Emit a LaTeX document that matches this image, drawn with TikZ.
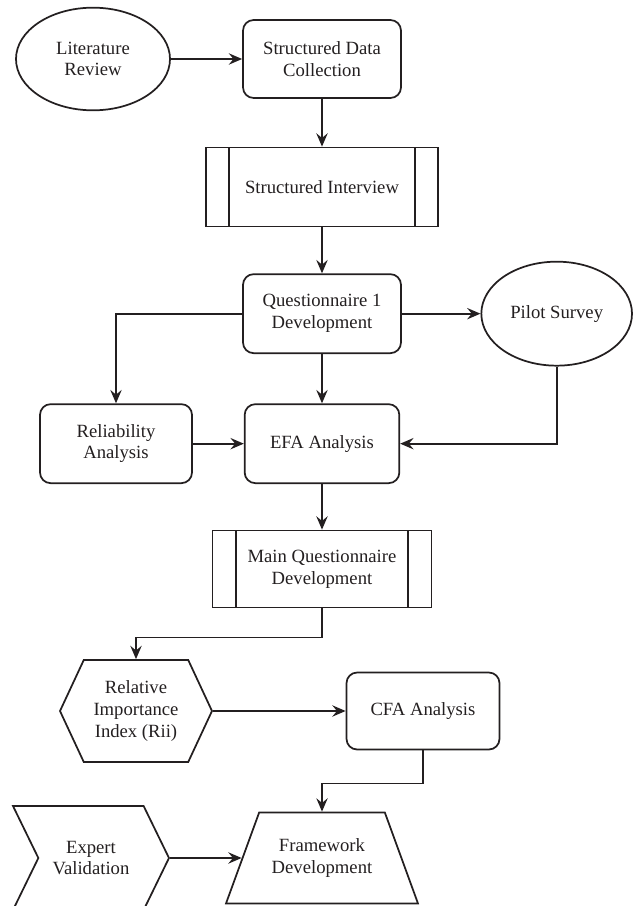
\documentclass[tikz,border=0pt]{standalone}
\usepackage{fontspec}
\setmainfont{Liberation Serif}
\usetikzlibrary{positioning,shapes.geometric,shapes.symbols,arrows.meta}
\definecolor{ink}{HTML}{231F20}

\begin{document}
\begin{tikzpicture}[->,>={Stealth[length=10pt,width=8.5pt,inset=3.5pt]},color=ink,line width=1.3pt,node distance=3cm,
    base node/.style={draw,align=center,inner sep=2pt,font=\fontsize{14}{16.3}\selectfont},
    round node/.style={base node,rectangle,rounded corners=8pt,minimum width=118.5pt,minimum height=58.5pt},
    oval node/.style={base node,ellipse,minimum width=115.5pt,minimum height=77pt},
    sub node/.style={base node,rectangle,path picture={
        \draw[-] ([xshift=17.5pt]path picture bounding box.north west) -- ([xshift=17.5pt]path picture bounding box.south west)
                 ([xshift=-17.5pt]path picture bounding box.north east) -- ([xshift=-17.5pt]path picture bounding box.south east);}},
    hex node/.style={base node,signal,signal to=west and east,signal pointer angle=130,minimum width=114pt,minimum height=76.5pt},
    flag node/.style={base node,signal,signal from=west,signal to=east,signal pointer angle=128,minimum width=117pt,minimum height=78pt},
    trap node/.style={base node,trapezium,trapezium angle=53,trapezium stretches body=true,minimum width=144pt,minimum height=68.25pt}]
    \useasboundingbox (-69.75pt,-635.25pt) rectangle (406.5pt,44.25pt);

    \node[oval node] (lit) at (0,0) {Literature\\Review};
    \node[round node] (sdc) [right of=lit, node distance=171.75pt] {Structured Data\\Collection};
    \node[sub node,minimum width=174pt,minimum height=59.25pt] (si) [below of=sdc, node distance=96pt] {Structured Interview};
    \node[round node,minimum height=59.25pt] (q1) [below of=si, node distance=95pt] {Questionnaire 1\\Development};
    \node[oval node,minimum width=113pt,minimum height=78pt] (pilot) [right of=q1, node distance=176pt] {Pilot Survey};
    \node[round node,minimum width=116pt,minimum height=59.25pt] (efa) [below of=q1, node distance=97.5pt] {EFA Analysis};
    \node[round node,minimum width=114pt,minimum height=59.25pt] (rel) [left of=efa, node distance=154.5pt] {Reliability\\Analysis};
    \node[sub node,minimum width=164.25pt,minimum height=57.75pt] (mq) [below of=efa, node distance=94pt] {Main Questionnaire\\Development};
    \node[hex node] (rii) [below of=mq, node distance=106.5pt, xshift=-139.5pt] {Relative\\Importance\\Index (Rii)};
    \node[round node,minimum width=114.75pt,minimum height=57.75pt] (cfa) [right of=rii, node distance=215.25pt] {CFA Analysis};
    \node[trap node] (fw) [below of=mq, node distance=216.75pt] {Framework\\Development};
    \node[flag node] (ev) [left of=fw, node distance=173.25pt] {Expert\\Validation};

    \path
        (lit) edge (sdc)
        (sdc) edge (si)
        (si) edge (q1)
        (q1) edge (pilot)
        (q1) edge (efa)
        (rel) edge (efa)
        (efa) edge (mq)
        (rii) edge (cfa)
        (ev) edge (fw)
        ;
    \draw (q1.west) -| (rel.north);
    \draw (pilot.south) |- (efa.east);
    \draw (mq.south) -- ++(0,-21.75pt) -| (rii.north);
    \draw (cfa.south) -- ++(0,-24.75pt) -| (fw.north);
\end{tikzpicture}
\end{document}
